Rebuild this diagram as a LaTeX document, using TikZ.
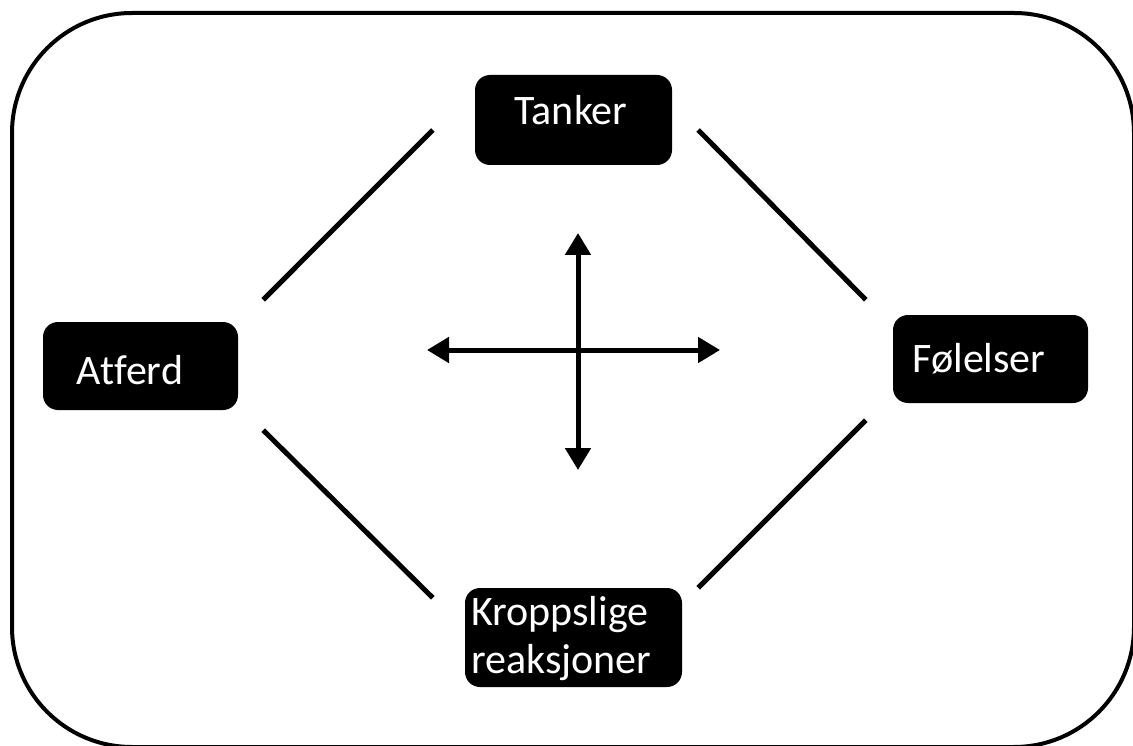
\documentclass[tikz,border=0pt]{standalone}
\usepackage{fontspec}
\setmainfont[Ligatures=CommonOff]{Carlito}
\usetikzlibrary{calc,arrows.meta}
\begin{document}
\begin{tikzpicture}[x=1pt,y=-1pt,
  box/.style={fill=black,rounded corners=15pt,inner sep=0pt},
  lbl/.style={text=white,inner sep=0pt,font=\fontsize{42}{48}\selectfont},
  link/.style={line width=5pt},
  dbl/.style={line width=5pt,{Triangle[width=25pt,length=22pt]}-{Triangle[width=25pt,length=22pt]}}]
\useasboundingbox (0,0) rectangle (1133,746);
\draw[line width=4pt,rounded corners=120pt] (12,13) rectangle (1134,747);
% boxes
\node[box,minimum width=197pt,minimum height=90pt] (tanker) at (573.5,120) {};
\node[box,minimum width=195pt,minimum height=88pt] (atferd) at (140.5,366) {};
\node[box,minimum width=195pt,minimum height=88pt] (folelser) at (990.5,359) {};
\node[box,minimum width=217pt,minimum height=99pt] (kropp) at (573.5,637.5) {};
% labels
\node[lbl,anchor=base] (tankerT) at (571,125) {Tanker};
\node[lbl,anchor=base] (atferdT) at (130,384) {Atferd};
\node[lbl,anchor=base] (folelserT) at (979,372) {Følelser};
\node[lbl,anchor=base west] (kroppT) at (471,625) {\parbox[t]{210pt}{\fontsize{42}{48}\selectfont Kroppslige\\reaksjoner}};
% connectors
\draw[link] ($(tanker.west)+(-42,10)$) -- ($(atferd.north east)+(25,-22)$);
\draw[link] ($(tanker.east)+(26,10)$) -- ($(folelser.north west)+(-27,-15)$);
\draw[link] ($(atferd.south east)+(25,20)$) -- ($(kropp.north west)+(-32,10)$);
\draw[link] ($(folelser.south west)+(-27,17)$) -- ($(kropp.north east)+(16,0)$);
% central arrows
\coordinate (up) at (578,233);
\coordinate (down) at (578,470);
\coordinate (left) at (427,350);
\coordinate (right) at (720,350);
\draw[dbl] (up) -- (down);
\draw[dbl] (left) -- (right);
\end{tikzpicture}
\end{document}
